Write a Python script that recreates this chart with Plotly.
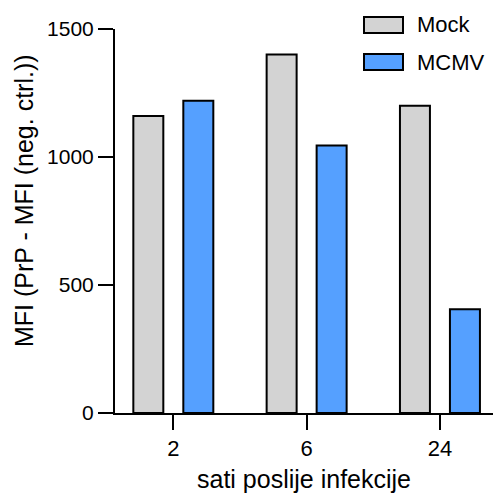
import plotly.graph_objects as go

categories = ["2", "6", "24"]
mock = [1160, 1400, 1200]
mcmv = [1220, 1045, 405]
series_names = ["Mock", "MCMV"]
colors = ["#D3D3D3", "#55A0FF"]
y_ticks = [0, 500, 1000, 1500]

fig = go.Figure()
for name, vals, col in zip(series_names, [mock, mcmv], colors):
    fig.add_trace(go.Bar(
        x=categories, y=vals, name=name,
        marker=dict(color=col, line=dict(color="black", width=2)),
        showlegend=False,
    ))

font = "Liberation Sans, Arial, sans-serif"
W, H = 493, 493
pl, pt, pb = 115, 29, 80
pw, ph = W - pl, H - pt - pb
TL = 15
xr = [-0.4375, 2.398]
yr = [0, 1500]

fig.update_layout(
    template="none",
    width=W, height=H,
    margin=dict(l=pl, r=0, t=pt, b=pb),
    plot_bgcolor="white", paper_bgcolor="white",
    barmode="group", bargap=0.25, bargroupgap=0.4,
    font=dict(family=font, size=21, color="black"),
    xaxis=dict(
        type="category", range=xr,
        showline=True, linecolor="black", linewidth=2,
        ticks="outside", ticklen=TL, tickwidth=2, tickcolor="black",
        tickfont=dict(size=22, family=font, color="black"),
        title=dict(text="sati poslije infekcije", font=dict(size=25, family=font, color="black"), standoff=14),
        showgrid=False, zeroline=False, automargin=False,
    ),
    yaxis=dict(
        range=yr, tickvals=y_ticks,
        showline=True, linecolor="black", linewidth=2,
        ticks="outside", ticklen=TL, tickwidth=2, tickcolor="black",
        tickfont=dict(size=21, family=font, color="black"),
        showgrid=False, zeroline=False, automargin=False,
    ),
)

def px(x): return (x - pl) / pw
def py(y): return (H - pb - y) / ph

# y-axis title placed to match the reference position
fig.add_annotation(xref="paper", yref="paper", x=px(24), y=py(201),
                   text="MFI (PrP - MFI (neg. ctrl.))", textangle=-90, showarrow=False,
                   xanchor="center", yanchor="middle",
                   font=dict(size=25, family=font, color="black"))

# legend drawn as boxes + labels
for i, (name, col) in enumerate(zip(series_names, colors)):
    yc = 25 + i * 37
    fig.add_shape(type="rect", xref="paper", yref="paper",
                  x0=px(364), x1=px(403), y0=py(yc + 8), y1=py(yc - 8),
                  fillcolor=col, line=dict(color="black", width=2))
    fig.add_annotation(xref="paper", yref="paper", x=px(415), y=py(yc),
                       text=name, showarrow=False, xanchor="left", yanchor="middle",
                       font=dict(size=22, family=font, color="black"))

fig.write_html("out.html")
